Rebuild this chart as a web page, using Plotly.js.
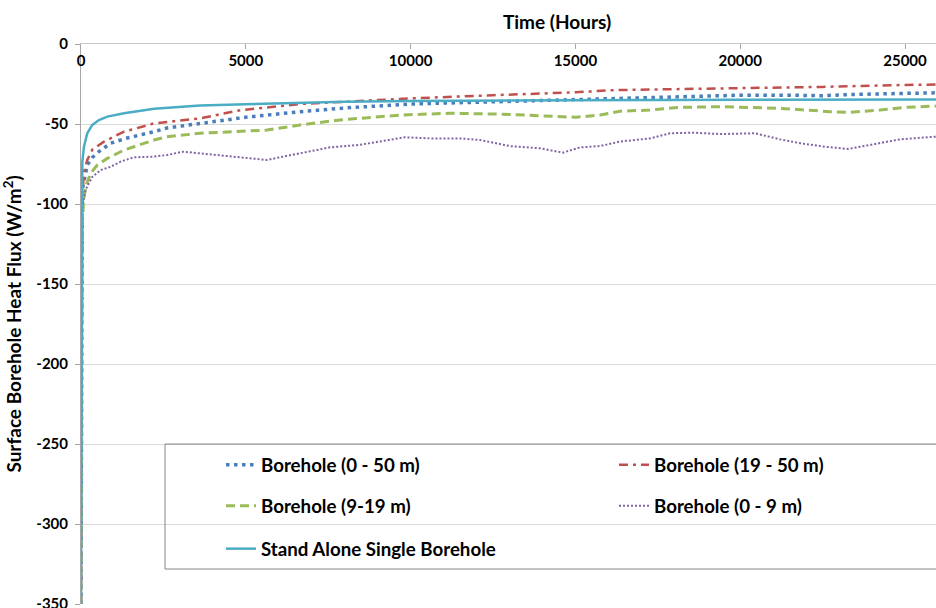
<!DOCTYPE html>
<html>
<head>
<meta charset="utf-8">
<script src="https://cdn.plot.ly/plotly-3.0.1.min.js"></script>
<style>
  html, body { margin: 0; padding: 0; background: #ffffff; overflow: hidden; }
  #chart { width: 936px; height: 608px; }
</style>
</head>
<body>
<div id="chart"></div>
<script>
// Surface borehole heat flux (W/m²) against elapsed time (hours)

const seriesNames = [
  'Borehole (0 - 50 m)',
  'Borehole (19 - 50 m)',
  'Borehole (9-19 m)',
  'Borehole (0 - 9 m)',
  'Stand Alone Single Borehole'
];

const xTickVals = [0, 5000, 10000, 15000, 20000, 25000];
const yTickVals = [0, -50, -100, -150, -200, -250, -300, -350];

// Borehole (0 - 50 m)
const hoursBH0to50 = [0, 5, 12, 20, 30, 39, 191, 343, 495, 698, 901, 1356, 1811, 2215, 2609, 3610, 4612, 5000,
  6644, 8000, 10000, 12500, 15000, 16200, 18000, 20000, 21500, 22500, 23500, 25000, 25940];
const fluxBH0to50 = [-350, -280, -210, -160, -120, -91, -75.6, -71, -68, -65, -62, -59, -57, -54.8, -52.5, -49.5, -46.5, -45.8,
  -42.3, -40, -37.5, -36, -35, -34, -33.2, -32, -32, -32.3, -31.5, -30.8, -30.5];

// Borehole (19 - 50 m)
const hoursBH19to50 = [0, 5, 12, 20, 30, 40, 91, 191, 343, 698, 1305, 2215, 3610, 4800, 6644, 8500, 10000,
  12500, 15000, 16200, 18000, 20000, 22500, 25000, 25940];
const fluxBH19to50 = [-350, -280, -210, -160, -120, -95, -80, -72.5, -66, -61, -54.8, -49.6, -46.5, -41.5, -37.5, -35.5, -34,
  -32, -30.2, -28.8, -28.3, -27.7, -26.8, -25.6, -25.3];

// Borehole (9-19 m)
const hoursBH9to19 = [0, 5, 12, 20, 30, 45, 80, 140, 294, 495, 798, 1305, 2215, 2609, 3610, 4612, 5643, 6644,
  7858, 9678, 11195, 12712, 14229, 15018, 15746, 16353, 17263, 18173, 19387, 21208, 22725, 23331, 24241, 25000, 25940];
const fluxBH9to19 = [-350, -290, -230, -180, -140, -110, -98, -89, -80.8, -75.6, -71.5, -66.3, -60, -58, -55.8, -54.8, -53.8, -50.6,
  -47.5, -44.4, -43.3, -43.8, -45.4, -45.8, -44.4, -42, -41.3, -39.6, -39.2, -40.2, -42.3, -42.7, -41.3, -39.6, -38.8];

// Borehole (0 - 9 m)
const hoursBH0to9 = [0, 5, 12, 20, 30, 39, 140, 343, 598, 901, 1205, 1608, 2215, 2609, 3095, 3610, 4612, 5643,
  6129, 6644, 7160, 7555, 8465, 9072, 9830, 10589, 11499, 12105, 13016, 13926, 14624, 15140, 15746, 16353, 17263,
  17870, 18568, 19387, 20449, 21208, 21814, 22573, 23271, 23938, 24848, 25940];
const fluxBH0to9 = [-350, -300, -240, -190, -140, -102.5, -91, -83, -78.8, -76.7, -73.5, -70.8, -70.4, -69.4, -67.3, -68.3, -70.4, -72.5,
  -70.4, -68.3, -66.3, -64.6, -63, -61, -58.3, -59, -59, -60, -63.8, -65.2, -67.9, -64.6, -63.8, -61, -59,
  -55.8, -55.4, -56.3, -55.8, -59.6, -62, -64.2, -65.6, -63.1, -59.6, -57.9];

// Stand Alone Single Borehole
const hoursSingle = [0, 5, 12, 20, 30, 39, 91, 191, 343, 546, 798, 1305, 2215, 3610, 5000, 6644, 8000, 10000,
  12500, 15000, 20000, 25940];
const fluxSingle = [-350, -270, -200, -150, -105, -74, -64, -55.8, -50.6, -47.5, -45.4, -43.3, -40.5, -38.5, -37.6, -36.6, -36.1, -35.6,
  -35.3, -35.1, -34.9, -34.7];

const FONT = 'Lato, "Open Sans", "DejaVu Sans", sans-serif';

const lineStyles = [
  { color: '#4a7ebb', width: 3.5, dash: '3.5px,4.5px' },
  { color: '#c0504d', width: 2.5, dash: '9px,5px,3px,5px' },
  { color: '#9bbb59', width: 3, dash: '9px,5px' },
  { color: '#8064a2', width: 2, dash: '2px,2px' },
  { color: '#4bacc6', width: 2.5, dash: 'solid' }
];

const xs = [hoursBH0to50, hoursBH19to50, hoursBH9to19, hoursBH0to9, hoursSingle];
const ys = [fluxBH0to50, fluxBH19to50, fluxBH9to19, fluxBH0to9, fluxSingle];
const legendKeys = ['legend', 'legend2', 'legend3', 'legend4', 'legend5'];

const traces = seriesNames.map((name, i) => ({
  type: 'scatter',
  mode: 'lines',
  name: name,
  x: xs[i],
  y: ys[i],
  line: lineStyles[i],
  legend: legendKeys[i],
  hoverinfo: 'x+y+name'
}));

// plot area geometry (pixels)
const W = 936, H = 608;
const M = { l: 81, r: 0, t: 44, b: 4 };
const plotW = W - M.l - M.r, plotH = H - M.t - M.b;
const px2x = p => (p - M.l) / plotW;
const py2y = p => (H - M.b - p) / plotH;

// legend entry anchors: two columns, three rows
const colPx = [221, 614];
const rowPx = [465, 506, 549];
const legendSlots = [[0, 0], [1, 0], [0, 1], [1, 1], [0, 2]];

const legendFont = { family: FONT, size: 18.7, color: '#000000', weight: 700 };

const layout = {
  width: W,
  height: H,
  margin: M,
  paper_bgcolor: '#ffffff',
  plot_bgcolor: '#ffffff',
  font: { family: FONT, color: '#000000' },
  title: {
    text: 'Time (Hours)',
    font: { family: FONT, size: 19, color: '#000000', weight: 700 },
    xref: 'container', yref: 'container',
    x: 557 / W, xanchor: 'center',
    y: 1 - 22 / H, yanchor: 'middle'
  },
  xaxis: {
    range: [0, (plotW) / 0.03296],
    side: 'top',
    tickmode: 'array',
    tickvals: xTickVals,
    ticktext: xTickVals.map(String),
    ticks: 'inside',
    ticklen: 5,
    tickcolor: '#a6a6a6',
    ticklabelposition: 'inside',
    ticklabeloverflow: 'allow',
    ticklabelstandoff: 6,
    tickfont: { family: FONT, size: 15, color: '#000000', weight: 700 },
    showline: true,
    linecolor: '#c8c8c8',
    linewidth: 1,
    showgrid: false,
    zeroline: false,
    fixedrange: true
  },
  yaxis: {
    range: [-350, 0],
    tickmode: 'array',
    tickvals: yTickVals,
    ticktext: yTickVals.map(String),
    ticks: 'outside',
    ticklen: 5,
    tickcolor: '#a6a6a6',
    ticklabelstandoff: 4,
    ticklabeloverflow: 'allow',
    tickfont: { family: FONT, size: 15, color: '#000000', weight: 700 },
    showline: true,
    linecolor: '#a6a6a6',
    linewidth: 1,
    showgrid: true,
    gridcolor: '#d9d9d9',
    gridwidth: 1,
    zeroline: false,
    fixedrange: true,
    title: {
      text: 'Surface Borehole Heat Flux (W/m<sup>2</sup>)',
      font: { family: FONT, size: 19, color: '#000000', weight: 700 },
      standoff: 12
    }
  },
  shapes: [{
    type: 'rect',
    xref: 'paper', yref: 'paper',
    x0: px2x(165), x1: px2x(960),
    y0: py2y(569), y1: py2y(444),
    line: { color: '#868686', width: 1 },
    fillcolor: 'rgba(0,0,0,0)',
    layer: 'above'
  }],
  showlegend: true
};

legendKeys.forEach((key, i) => {
  const [c, r] = legendSlots[i];
  layout[key] = {
    x: px2x(colPx[c]),
    y: py2y(rowPx[r]),
    xanchor: 'left',
    yanchor: 'middle',
    xref: 'paper', yref: 'paper',
    bgcolor: 'rgba(0,0,0,0)',
    borderwidth: 0,
    font: legendFont,
    itemwidth: 30
  };
});

Plotly.newPlot('chart', traces, layout, { staticPlot: true, displayModeBar: false });
</script>
</body>
</html>
